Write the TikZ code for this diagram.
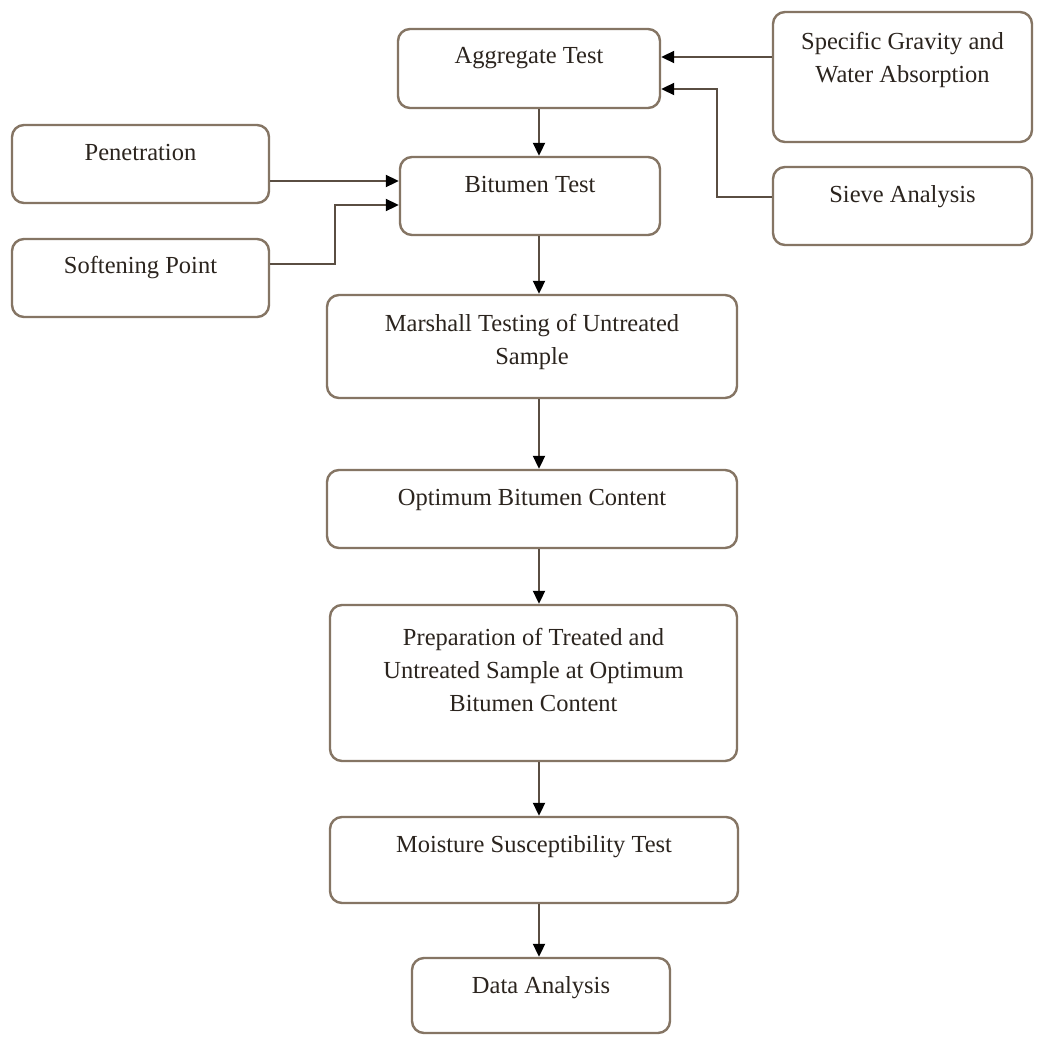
\documentclass[tikz,border=0pt]{standalone}
\usepackage{fontspec}
\setmainfont{Liberation Serif}
\usetikzlibrary{arrows.meta}
\definecolor{boxline}{HTML}{857564}
\definecolor{conline}{HTML}{5A4E42}
\definecolor{txtcol}{HTML}{2B241E}
\begin{document}
\begin{tikzpicture}[x=1pt,y=-1pt,
  box/.style={draw=boxline,line width=2.4pt,rounded corners=12pt,inner sep=0pt},
  lbl/.style={text=txtcol,font=\fontsize{24.5}{33}\selectfont,align=center,inner sep=0pt},
  arr/.style={draw=conline,line width=2pt,-{Triangle[length=13pt,width=12pt,color=black]}}]
\useasboundingbox[fill=white] (0,0) rectangle (1038,1036);
% boxes
\node[box,minimum width=262pt,minimum height=79pt] (agg) at (529,68.5) {};
\node[box,minimum width=260pt,minimum height=78pt] (bit) at (530,196) {};
\node[box,minimum width=257pt,minimum height=78pt] (pen) at (140.5,164) {};
\node[box,minimum width=257pt,minimum height=78pt] (soft) at (140.5,278) {};
\node[box,minimum width=259pt,minimum height=130pt] (spg) at (902.5,77) {};
\node[box,minimum width=259pt,minimum height=78pt] (sieve) at (902.5,206) {};
\node[box,minimum width=410pt,minimum height=103pt] (mar) at (532,346.5) {};
\node[box,minimum width=410pt,minimum height=78pt] (opt) at (532,509) {};
\node[box,minimum width=407pt,minimum height=156pt] (prep) at (533.5,683) {};
\node[box,minimum width=408pt,minimum height=86pt] (moist) at (534,860) {};
\node[box,minimum width=258pt,minimum height=75pt] (data) at (541,995.5) {};
% labels
\node[lbl] (aggT) at (529,58) {Aggregate Test};
\node[lbl] (bitT) at (530,185) {Bitumen Test};
\node[lbl] (penT) at (140.5,153) {Penetration};
\node[lbl] (softT) at (140.5,268) {Softening Point};
\node[lbl] (spgT) at (902.5,60) {Specific Gravity and\\Water Absorption};
\node[lbl] (sieveT) at (902.5,197) {Sieve Analysis};
\node[lbl] (marT) at (532,341.5) {Marshall Testing of Untreated\\Sample};
\node[lbl] (optT) at (532,500) {Optimum Bitumen Content};
\node[lbl] (prepT) at (533.5,670) {Preparation of Treated and\\Untreated Sample at Optimum\\Bitumen Content};
\node[lbl] (moistT) at (534,847) {Moisture Susceptibility Test};
\node[lbl] (dataT) at (541,988) {Data Analysis};
% helper coordinates
\coordinate (cx) at (539,0);
\coordinate (ya) at (0,57);
\coordinate (yb) at (0,89);
\coordinate (ys) at (0,197);
\coordinate (kx) at (717,0);
\coordinate (yp) at (0,181);
\coordinate (yq) at (0,205);
\coordinate (yr) at (0,264);
\coordinate (jx) at (335,0);
% connectors
\draw[arr] (agg.south -| cx) -- (bit.north -| cx);
\draw[arr] (bit.south -| cx) -- (mar.north -| cx);
\draw[arr] (mar.south -| cx) -- (opt.north -| cx);
\draw[arr] (opt.south -| cx) -- (prep.north -| cx);
\draw[arr] (prep.south -| cx) -- (moist.north -| cx);
\draw[arr] (moist.south -| cx) -- (data.north -| cx);
\draw[arr] (spg.west |- ya) -- (agg.east |- ya);
\draw[arr] (sieve.west |- ys) -- (kx |- ys) -- (kx |- yb) -- (agg.east |- yb);
\draw[arr] (pen.east |- yp) -- (bit.west |- yp);
\draw[arr] (soft.east |- yr) -- (jx |- yr) -- (jx |- yq) -- (bit.west |- yq);
\end{tikzpicture}
\end{document}
